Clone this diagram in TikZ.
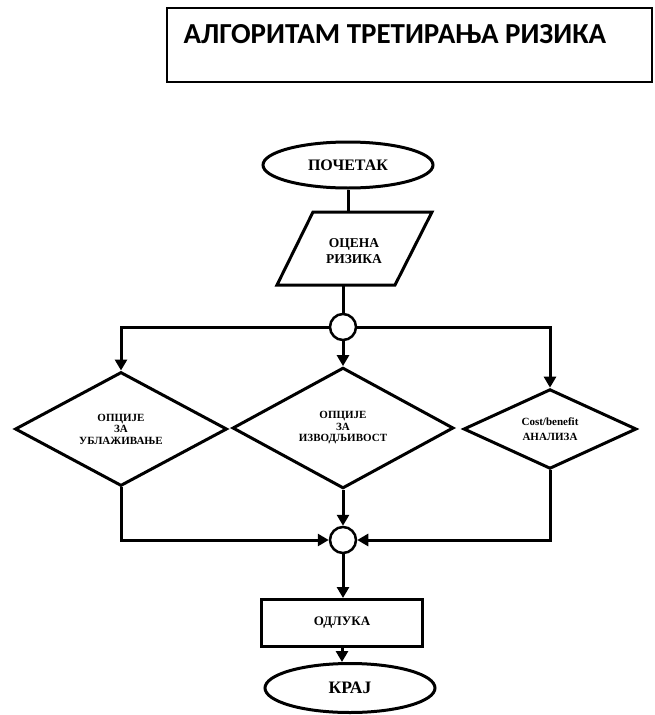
\documentclass[tikz,border=0pt]{standalone}
\usepackage{fontspec}
\setmainfont{Liberation Serif}
\newfontfamily\titlefont{Carlito}
\usetikzlibrary{arrows.meta, positioning, calc, shapes.geometric}
\tikzset{>={Triangle[length=11pt,width=12pt]}}
\tikzset{
  flow/.style={line width=3pt},
  term/.style={ellipse, draw, line width=3pt, inner sep=0pt, font=\bfseries\fontsize{16}{18}\selectfont},
  junc/.style={circle, draw, line width=2.5pt, inner sep=0pt, minimum size=26pt},
  choice/.style={diamond, draw, line width=3pt, inner sep=0pt, align=center, font=\bfseries\fontsize{11}{11.5}\selectfont},
}

\begin{document}
\begin{tikzpicture}[x=1pt, y=-1pt]
	\useasboundingbox (0,0) rectangle (654,715);
	% naslov
	\draw[line width=1.3pt] (167,8) rectangle (652,82);
	\node[anchor=west, font=\titlefont\bfseries\fontsize{29}{31}\selectfont] (naslov) at (180,34) {АЛГОРИТАМ ТРЕТИРАЊА РИЗИКА};

	\node[term, minimum width=170pt, minimum height=46pt] (pocetak) at (348,165) {ПОЧЕТАК};
	% paralelogram
	\draw[line width=3pt, line join=miter] (313,212) -- (432,212) -- (395,285) -- (277,285) -- cycle;
	\node[align=center, font=\bfseries\fontsize{13.5}{16}\selectfont] (ocena) at (354,251) {ОЦЕНА\\РИЗИКА};
	\coordinate (ocenaN) at (348,212);
	\coordinate (ocenaS) at (343,285);
	\node[junc] (j1) at (343,327) {};

	\node[choice, minimum width=212pt, minimum height=92pt] (ublaz) at (121,429) {ОПЦИЈЕ\\ЗА\\УБЛАЖИВАЊЕ};
	\node[choice, minimum width=221pt, minimum height=93pt] (izvod) at (343,428) {ОПЦИЈЕ\\ЗА\\ИЗВОДЉИВОСТ};
	\node[choice, minimum width=173pt, minimum height=78pt, font=\bfseries\fontsize{11}{15}\selectfont] (analiza) at (550,429) {Cost/benefit\\АНАЛИЗА};

	\node[junc] (j2) at (343,540) {};
	\node[draw, line width=3pt, minimum width=161pt, minimum height=47pt, font=\bfseries\fontsize{13}{15}\selectfont] (odluka) at (342,623) {ОДЛУКА};
	\node[term, minimum width=170pt, minimum height=49pt, font=\bfseries\fontsize{17.5}{19}\selectfont] (kraj) at (350,688) {КРАЈ};

	% veze
	\draw[flow] (pocetak.south) -- (ocenaN);
	\draw[flow] (ocenaS) -- (j1.north);
	\draw[flow, ->] (j1.west) -| (ublaz.north);
	\draw[flow, ->] (j1.south) -- (izvod.north);
	\draw[flow, ->] (j1.east) -| (analiza.north);
	\draw[flow, ->] (ublaz.south) |- (j2.west);
	\draw[flow, ->] (izvod.south) -- (j2.north);
	\draw[flow, ->] (analiza.south) |- (j2.east);
	\draw[flow, ->] (j2.south) -- (j2.south |- odluka.north);
	\draw[flow, ->] (odluka.south) -- (odluka.south |- kraj.north);
\end{tikzpicture}
\end{document}
